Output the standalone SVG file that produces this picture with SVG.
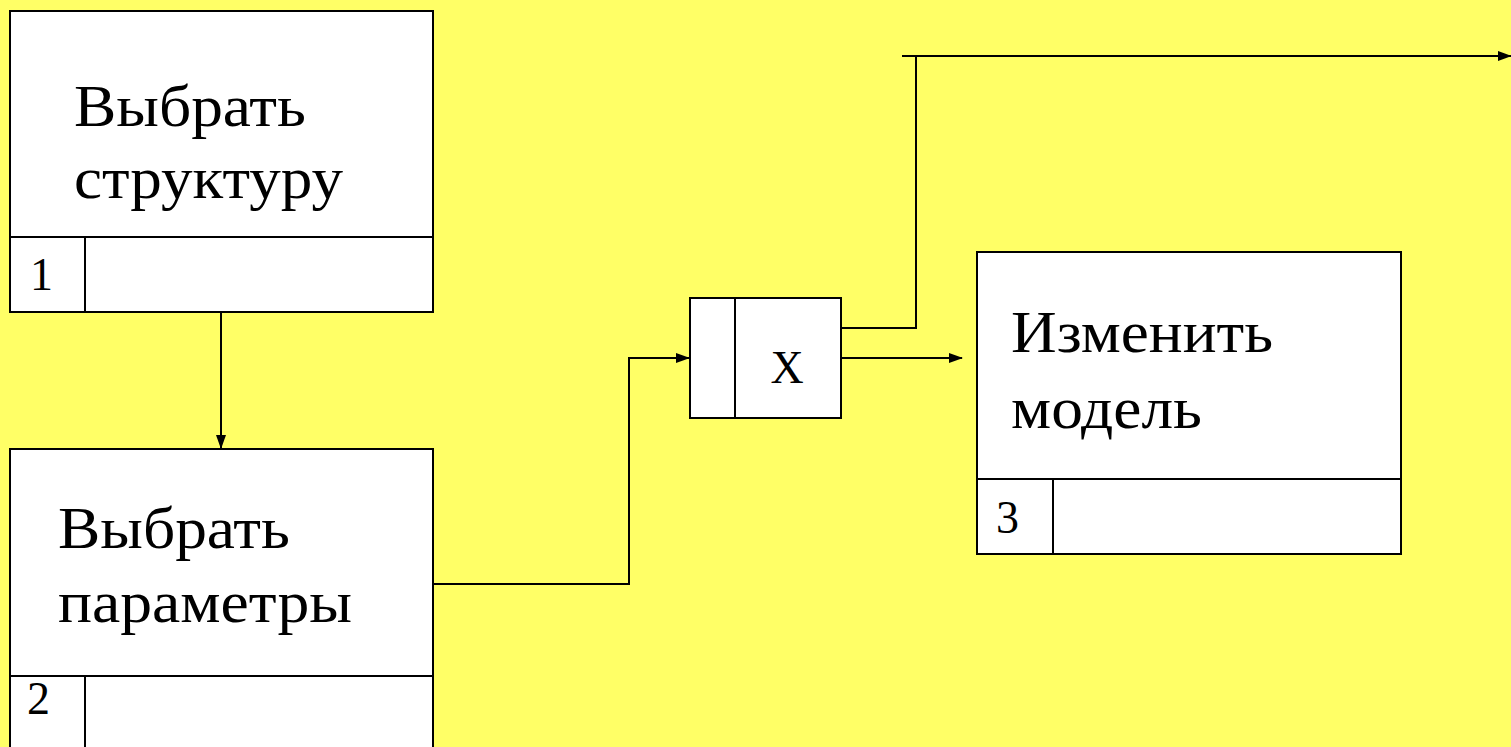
<svg xmlns="http://www.w3.org/2000/svg" width="1511" height="747" viewBox="0 0 1511 747">
<style>
.box{fill:#fff;stroke:#000;stroke-width:2}
.ln{fill:none;stroke:#000;stroke-width:2}
.t{font-family:"Liberation Serif","DejaVu Serif",serif;font-size:60px;fill:#000}
.n{font-family:"Liberation Serif","DejaVu Serif",serif;font-size:46px;fill:#000}
.c{fill:none;stroke:#000;stroke-width:2}
</style>
<defs>
<marker id="ah" markerWidth="14" markerHeight="10" refX="13" refY="5" orient="auto" markerUnits="userSpaceOnUse">
<path d="M0,0 L14,5 L0,10 Z" fill="#000"/>
</marker>
</defs>
<rect x="0" y="0" width="1511" height="747" fill="#FFFF66"/>
<g id="node1">
<rect class="box" x="10" y="11" width="423" height="301"/>
<line class="ln" x1="10" y1="237" x2="433" y2="237"/>
<line class="ln" x1="85" y1="237" x2="85" y2="312"/>
<text class="t" x="74" y="126" textLength="232" lengthAdjust="spacingAndGlyphs">Выбрать</text>
<text class="t" x="74" y="198" textLength="269" lengthAdjust="spacingAndGlyphs">структуру</text>
<text class="n" x="30" y="290">1</text>
</g>
<g id="node2">
<rect class="box" x="10" y="449" width="423" height="310"/>
<line class="ln" x1="10" y1="676" x2="433" y2="676"/>
<line class="ln" x1="85" y1="676" x2="85" y2="747"/>
<text class="t" x="58" y="548" textLength="232" lengthAdjust="spacingAndGlyphs">Выбрать</text>
<text class="t" x="58" y="622" textLength="294" lengthAdjust="spacingAndGlyphs">параметры</text>
<text class="n" x="27" y="714">2</text>
</g>
<g id="junction">
<rect class="box" x="690" y="298" width="151" height="120"/>
<line class="ln" x1="735" y1="298" x2="735" y2="418"/>
<text class="n" x="787" y="383" text-anchor="middle">X</text>
</g>
<g id="node3">
<rect class="box" x="977" y="252" width="424" height="302"/>
<line class="ln" x1="977" y1="479" x2="1401" y2="479"/>
<line class="ln" x1="1053" y1="479" x2="1053" y2="554"/>
<text class="t" x="1011" y="352" textLength="262" lengthAdjust="spacingAndGlyphs">Изменить</text>
<text class="t" x="1011" y="428" textLength="191" lengthAdjust="spacingAndGlyphs">модель</text>
<text class="n" x="996" y="533">3</text>
</g>
<g id="connectors">
<path class="c" d="M221,312 L221,448" marker-end="url(#ah)"/>
<path class="c" d="M433,584 L629,584 L629,358 L689,358" marker-end="url(#ah)"/>
<path class="c" d="M841,358 L962,358" marker-end="url(#ah)"/>
<path class="c" d="M841,328 L916,328 L916,56"/>
<path class="c" d="M902,56 L1511,56" marker-end="url(#ah)"/>
</g>
</svg>
